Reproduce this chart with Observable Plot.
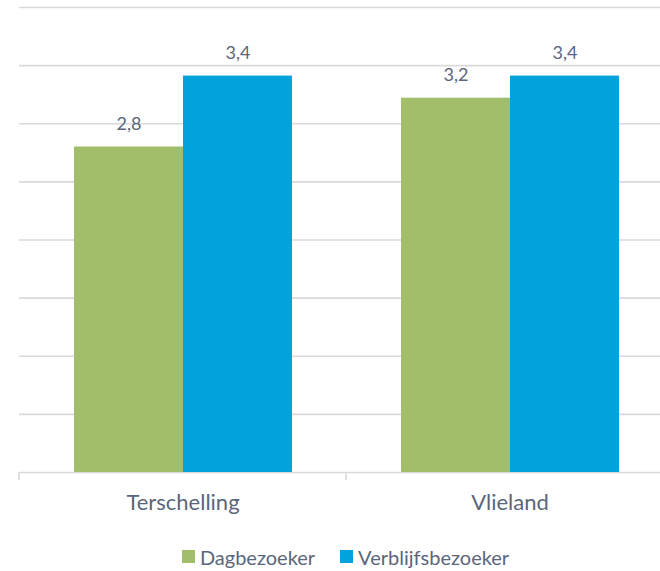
<!DOCTYPE html>
<html>
<head>
<meta charset="utf-8">
<script src="https://cdn.jsdelivr.net/npm/d3@7"></script>
<script src="https://cdn.jsdelivr.net/npm/@observablehq/plot@0.6"></script>
<style>
  html, body { margin: 0; padding: 0; background: #fff; }
  body { font-family: Lato, "Open Sans", sans-serif; }
  #chart svg { overflow: hidden; }
  #legend { padding-top: 10px; }
  #legend > div { justify-content: center; margin-left: 56px !important; font-family: Lato, sans-serif !important; font-weight: 400; font-size: 20px !important; color: #5a667b !important; }
  #legend span { margin-right: 25px !important; }
  #legend svg { margin-right: 5px !important; }
</style>
</head>
<body>
<div id="chart"></div>
<div id="legend"></div>
<script>
const islands = ["Terschelling", "Vlieland"];
const series = ["Dagbezoeker", "Verblijfsbezoeker"];
const colors = ["#a3be6a", "#02a2dc"];
const dagValues = [2.8, 3.22];
const verblijfValues = [3.41, 3.41];
const yTicks = [0, 0.5, 1, 1.5, 2, 2.5, 3, 3.5, 4];

const data = [];
islands.forEach((isl, i) => {
  data.push({island: isl, series: series[0], value: dagValues[i]});
  data.push({island: isl, series: series[1], value: verblijfValues[i]});
});
const fmt = v => d3.format(".1f")(v).replace(".", ",");
const textColor = "#5a667b";

const chart = Plot.plot({
  width: 660,
  height: 530,
  marginLeft: 19,
  marginRight: -13,
  marginTop: 7,
  marginBottom: 58,
  style: {fontFamily: "Lato, sans-serif", background: "#fff"},
  fx: {domain: islands, padding: 0, label: null},
  x: {domain: series, paddingInner: 0, paddingOuter: 0.5, axis: null},
  y: {domain: [0, 4], axis: null},
  color: {domain: series, range: colors},
  marks: [
    Plot.gridY(yTicks, {stroke: "#d9d9d9", strokeOpacity: 1, strokeWidth: 1.6}),
    Plot.barY(data, {fx: "island", x: "series", y: "value", fill: "series"}),
    Plot.text(data, {fx: "island", x: "series", y: "value", text: d => fmt(d.value), dy: -23, fontSize: 18, fill: textColor}),
    Plot.axisFx({anchor: "bottom", tickSize: 0, tickPadding: 22, fontSize: 22, fill: textColor, label: null})
  ]
});
document.getElementById("chart").appendChild(chart);

// boundary ticks below the baseline, from the fx and y scales
const fxs = chart.scale("fx");
const ys = chart.scale("y");
const bounds = islands.map(d => fxs.apply(d)).concat([fxs.apply(islands[islands.length - 1]) + fxs.step]);
const y0 = ys.apply(0);
d3.select(chart).append("g")
  .selectAll("line").data(bounds).join("line")
  .attr("x1", d => d).attr("x2", d => d)
  .attr("y1", y0).attr("y2", y0 + 8)
  .attr("stroke", "#d9d9d9").attr("stroke-width", 1.6);

const leg = Plot.legend({
  color: {type: "ordinal", domain: series, range: colors},
  swatchSize: 13,
  style: {fontSize: "20px", fontFamily: "Lato, sans-serif", color: textColor}
});
document.getElementById("legend").appendChild(leg);
</script>
</body>
</html>
